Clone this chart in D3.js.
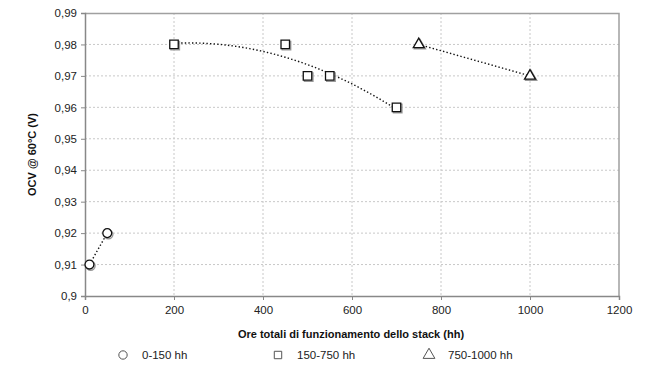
<!DOCTYPE html>
<html>
<head>
<meta charset="utf-8">
<script src="https://cdn.jsdelivr.net/npm/d3@7"></script>
<style>
  body { margin: 0; background: #fff; }
  text { font-family: "Liberation Sans", Arial, sans-serif; }
</style>
</head>
<body>
<div id="chart"></div>
<script>
// data
const hours0 = [10, 50];
const ocv0 = [0.91, 0.92];
const hours1 = [200, 450, 500, 550, 700];
const ocv1 = [0.98, 0.98, 0.97, 0.97, 0.96];
const hours2 = [750, 1000];
const ocv2 = [0.98, 0.97];
const seriesNames = ["0-150 hh", "150-750 hh", "750-1000 hh"];
const xTicks = [0, 200, 400, 600, 800, 1000, 1200];
const yTicks = [0.9, 0.91, 0.92, 0.93, 0.94, 0.95, 0.96, 0.97, 0.98, 0.99];

const width = 645, height = 367;
const margin = { top: 13, right: 26, bottom: 71, left: 85 };
const iw = width - margin.left - margin.right;
const ih = height - margin.top - margin.bottom;

const svg = d3.select('#chart').append('svg')
  .attr('width', width).attr('height', height);
const g = svg.append('g').attr('transform', `translate(${margin.left},${margin.top})`);

const x = d3.scaleLinear().domain([0, 1200]).range([0, iw]);
const y = d3.scaleLinear().domain([0.9, 0.99]).range([ih, 0]);

// grid
g.selectAll('.hg').data(yTicks.slice(1, -1)).enter().append('line')
  .attr('x1', 0).attr('x2', iw)
  .attr('y1', d => y(d)).attr('y2', d => y(d))
  .attr('stroke', '#c8c8c8').attr('stroke-dasharray', '2,2');
g.selectAll('.vg').data(xTicks.slice(1, -1)).enter().append('line')
  .attr('y1', 0).attr('y2', ih)
  .attr('x1', d => x(d)).attr('x2', d => x(d))
  .attr('stroke', '#c8c8c8').attr('stroke-dasharray', '2,2');

// frame top/right
g.append('path').attr('d', `M0,0.5H${iw}V${ih}`)
  .attr('fill', 'none').attr('stroke', '#a0a0a0').attr('stroke-width', 1.5);

const fmt = d => String(d).replace('.', ',');

const yAxis = g.append('g')
  .call(d3.axisLeft(y).tickValues(yTicks).tickFormat(fmt).tickSize(4).tickPadding(4));
const xAxis = g.append('g').attr('transform', `translate(0,${ih})`)
  .call(d3.axisBottom(x).tickValues(xTicks).tickFormat(d3.format('d')).tickSize(4).tickPadding(6));
[yAxis, xAxis].forEach(a => {
  a.select('.domain').attr('stroke', '#888').attr('stroke-width', 1.5);
  a.selectAll('.tick line').attr('stroke', '#888');
  a.selectAll('.tick text').attr('fill', '#222').style('font-size', '11.5px');
});

// axis titles
svg.append('text')
  .attr('transform', `translate(36,${margin.top + ih / 2}) rotate(-90)`)
  .attr('text-anchor', 'middle')
  .style('font-size', '11px').style('font-weight', 'bold').attr('fill', '#111')
  .text('OCV @ 60°C (V)');
svg.append('text')
  .attr('x', 351).attr('y', 338)
  .attr('text-anchor', 'middle')
  .style('font-size', '11px').style('font-weight', 'bold').attr('fill', '#111')
  .text('Ore totali di funzionamento dello stack (hh)');

// trend lines
const dotted = sel => sel.attr('fill', 'none').attr('stroke', '#111')
  .attr('stroke-width', 1.4).attr('stroke-dasharray', '1.4,2.2');

function linFit(xs, ys) {
  const line = d3.line().x(d => x(d[0])).y(d => y(d[1]));
  return line(xs.map((v, i) => [v, ys[i]]));
}
g.append('path').attr('d', linFit(hours0, ocv0)).call(dotted);
g.append('path').attr('d', linFit(hours2, ocv2)).call(dotted);

// second order least squares trendline for the middle series
function polyFit2(xs, ys) {
  const S = k => d3.sum(xs, v => Math.pow(v, k));
  const T = k => d3.sum(xs, (v, i) => Math.pow(v, k) * ys[i]);
  const A = [[S(0), S(1), S(2)], [S(1), S(2), S(3)], [S(2), S(3), S(4)]];
  const b = [T(0), T(1), T(2)];
  const det = m => m[0][0] * (m[1][1] * m[2][2] - m[1][2] * m[2][1])
    - m[0][1] * (m[1][0] * m[2][2] - m[1][2] * m[2][0])
    + m[0][2] * (m[1][0] * m[2][1] - m[1][1] * m[2][0]);
  const D = det(A);
  return [0, 1, 2].map(c => det(A.map((row, r) => row.map((v, j) => j === c ? b[r] : v))) / D);
}
const coef = polyFit2(hours1, ocv1);
const curvePts = d3.range(200, 700.1, 5).map(h => [h, coef[0] + coef[1] * h + coef[2] * h * h]);
g.append('path')
  .attr('d', d3.line().x(d => x(d[0])).y(d => y(d[1]))(curvePts))
  .call(dotted);

// markers
const symbols = [d3.symbolCircle, d3.symbolSquare, d3.symbolTriangle];
const sizes = [62, 72, 52];
const allSeries = [[hours0, ocv0], [hours1, ocv1], [hours2, ocv2]];
allSeries.forEach(([hs, vs], k) => {
  const sym = d3.symbol().type(symbols[k]).size(sizes[k]);
  const pts = hs.map((h, i) => [h, vs[i]]);
  g.selectAll(null).data(pts).enter().append('path')
    .attr('d', sym)
    .attr('transform', d => `translate(${x(d[0]) + 1.2},${y(d[1]) + 1.2})`)
    .attr('fill', 'none').attr('stroke', '#999').attr('stroke-width', 1.4);
  g.selectAll(null).data(pts).enter().append('path')
    .attr('d', sym)
    .attr('transform', d => `translate(${x(d[0])},${y(d[1])})`)
    .attr('fill', 'white').attr('stroke', '#111').attr('stroke-width', 1.3);
});

// legend
const legX = [123, 278, 429];
seriesNames.forEach((name, k) => {
  svg.append('path')
    .attr('d', d3.symbol().type(symbols[k]).size(k === 2 ? 60 : 55)())
    .attr('transform', `translate(${legX[k]},355)`)
    .attr('fill', 'white').attr('stroke', '#555').attr('stroke-width', 1);
  svg.append('text')
    .attr('x', legX[k] + 19).attr('y', 359)
    .style('font-size', '11.5px').attr('fill', '#222')
    .text(name);
});
</script>
</body>
</html>
